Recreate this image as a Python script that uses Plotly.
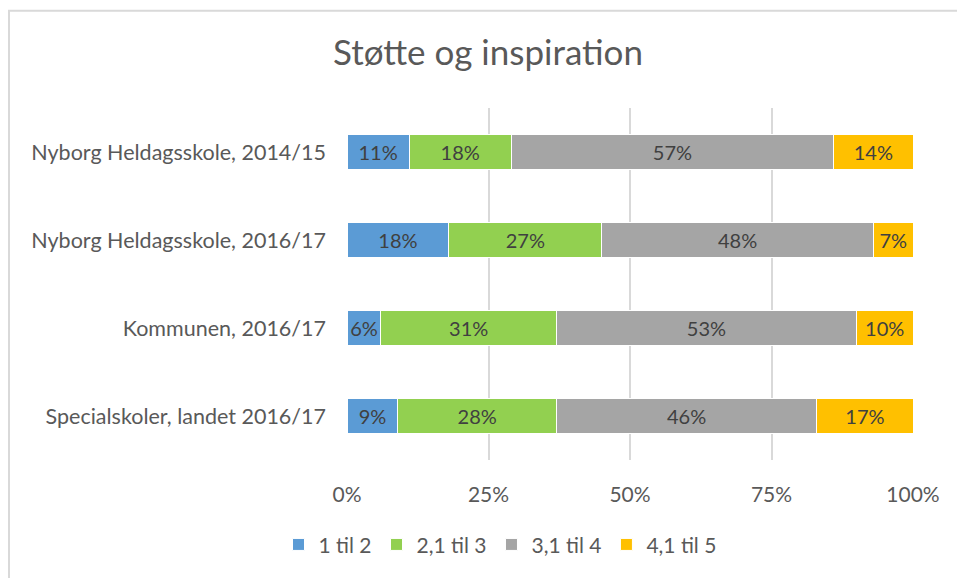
import plotly.graph_objects as go

categories = ["Nyborg Heldagsskole, 2014/15", "Nyborg Heldagsskole, 2016/17",
              "Kommunen, 2016/17", "Specialskoler, landet 2016/17"]
series_names = ["1 til 2", "2,1 til 3", "3,1 til 4", "4,1 til 5"]
s1 = [11, 18, 6, 9]
s2 = [18, 27, 31, 28]
s3 = [57, 48, 53, 46]
s4 = [14, 7, 10, 17]
colors = ["#5B9BD5", "#92D050", "#A5A5A5", "#FFC000"]
x_ticks = [0, 0.25, 0.5, 0.75, 1.0]
x_tick_labels = ["0%", "25%", "50%", "75%", "100%"]

FONT = "Lato"
fig = go.Figure()
for name, vals, col in zip(series_names, [s1, s2, s3, s4], colors):
    fig.add_trace(go.Bar(
        y=categories, x=[v / 100 for v in vals], name=name, orientation="h",
        marker=dict(color=col, line=dict(color="white", width=1)),
        text=[f"{v}%" for v in vals], textposition="inside",
        insidetextanchor="middle",
        textfont=dict(size=20, color="#404040", family=FONT),
        width=0.4, hoverinfo="skip",
    ))

W, H = 957, 578
ml, mr, mt, mb = 347, 44, 107.5, 115.5
pw, ph = W - ml - mr, H - mt - mb

def px_x(p):
    return (p - ml) / pw

def px_y(p):
    return (H - mb - p) / ph

border = dict(color="#D9D9D9", width=2)
fig.update_layout(
    barmode="stack",
    width=W, height=H,
    margin=dict(l=ml, r=mr, t=mt, b=mb),
    paper_bgcolor="white", plot_bgcolor="white",
    font=dict(family=FONT, color="#595959", size=21),
    title=dict(text="Støtte og inspiration", x=488 / W, xanchor="center",
               y=1 - 53 / H, yanchor="middle", xref="container", yref="container",
               font=dict(size=35, color="#595959", family=FONT)),
    uniformtext=dict(minsize=20, mode="show"),
    xaxis=dict(range=[0, 1], tickvals=x_ticks, ticktext=x_tick_labels,
               showgrid=True, gridcolor="#D9D9D9", gridwidth=1.5,
               zeroline=False, showline=False, ticks="",
               tickfont=dict(size=21, color="#595959"), ticklabelstandoff=20,
               fixedrange=True),
    yaxis=dict(autorange="reversed", showgrid=False, zeroline=False, ticks="",
               tickfont=dict(size=21.5, color="#595959"), ticklabelstandoff=20),
    legend=dict(orientation="h", x=px_x(500), xanchor="center",
                y=px_y(548), yanchor="middle",
                font=dict(size=21, color="#595959"), traceorder="normal",
                itemwidth=30),
    shapes=[
        dict(type="line", xref="paper", yref="paper",
             x0=px_x(8), x1=px_x(960), y0=px_y(9.5), y1=px_y(9.5),
             line=border, layer="below"),
        dict(type="line", xref="paper", yref="paper",
             x0=px_x(9), x1=px_x(9), y0=px_y(9.5), y1=px_y(582),
             line=border, layer="below"),
    ],
)

fig.write_html("out.html", config={"displayModeBar": False},
               post_script="document.body.style.margin='0px';document.body.style.overflow='hidden';")
